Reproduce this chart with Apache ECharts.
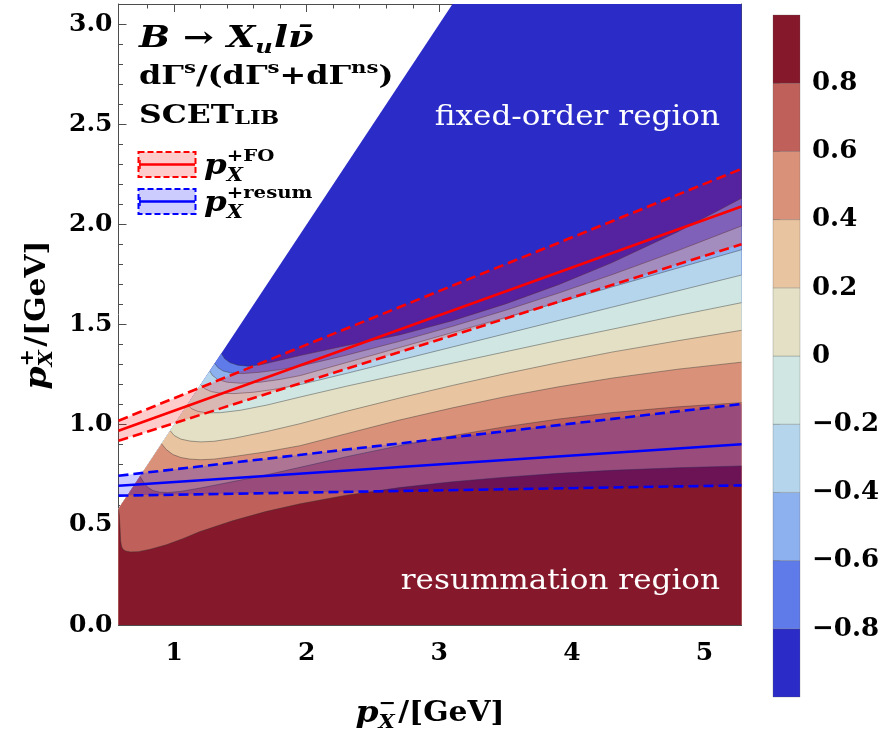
<!DOCTYPE html>
<html>
<head>
<meta charset="utf-8">
<script src="https://cdn.jsdelivr.net/npm/echarts@6/dist/echarts.min.js"></script>
<style>
  html, body { margin: 0; padding: 0; background: #ffffff; }
  #chart { width: 888px; height: 737px; }
</style>
</head>
<body>
<div id="chart"></div>
<script>
// ---- axis ranges and ticks ----
const X_MIN = 0.58, X_MAX = 5.28, Y_MIN = 0, Y_MAX = 3.1;
const xMajorTicks = [1, 2, 3, 4, 5];
const xMinorTicks = [0.8, 1.2, 1.4, 1.6, 1.8, 2.2, 2.4, 2.6, 2.8, 3.2, 3.4, 3.6, 3.8, 4.2, 4.4, 4.6, 4.8, 5.2];
const yMajorTicks = [0, 0.5, 1, 1.5, 2, 2.5, 3];
const yMinorTicks = [0.1, 0.2, 0.3, 0.4, 0.6, 0.7, 0.8, 0.9, 1.1, 1.2, 1.3, 1.4, 1.6, 1.7, 1.8, 1.9,
                     2.1, 2.2, 2.3, 2.4, 2.6, 2.7, 2.8, 2.9];

// ---- contour levels of dGamma^s/(dGamma^s+dGamma^ns) ----
const levels = [-0.8, -0.6, -0.4, -0.2, 0, 0.2, 0.4, 0.6, 0.8];
const levelEdges = [-1, -0.8, -0.6, -0.4, -0.2, 0, 0.2, 0.4, 0.6, 0.8, 1];
const bandColors = ['#2b2bc8', '#5f7ae9', '#8db0ee', '#b5d5ec', '#d0e6e2',
                    '#e3e0c6', '#e8c4a0', '#d9917a', '#c0605a', '#86182b'];

// contour lines [p-, p+] for each level, starting on the kinematic edge p+ = p-
const contourM08 = [[1.356,1.356],[1.38,1.33],[1.42,1.31],[1.48,1.297],[1.56,1.292],[1.66,1.300],[1.8,1.322],[1.95,1.345],[2.3,1.395],[2.7,1.448],[3.1,1.519],[3.5,1.603],[3.9,1.699],[4.3,1.808],[4.8,1.963],[5.28,2.13]];
const contourM06 = [[1.306,1.306],[1.33,1.285],[1.37,1.268],[1.43,1.258],[1.52,1.255],[1.65,1.262],[1.8,1.275],[1.95,1.292],[2.3,1.347],[2.7,1.416],[3.1,1.491],[3.5,1.571],[3.9,1.657],[4.3,1.748],[4.8,1.869],[5.28,1.992]];
const contourM04 = [[1.268,1.268],[1.29,1.245],[1.33,1.225],[1.4,1.212],[1.5,1.207],[1.65,1.212],[1.8,1.226],[1.95,1.245],[2.3,1.31],[2.7,1.385],[3.1,1.46],[3.5,1.535],[3.9,1.61],[4.3,1.687],[4.8,1.782],[5.28,1.873]];
const contourM02 = [[1.20,1.20],[1.23,1.18],[1.28,1.165],[1.35,1.157],[1.45,1.155],[1.6,1.162],[1.75,1.176],[1.95,1.2],[2.3,1.256],[2.7,1.322],[3.1,1.388],[3.5,1.454],[3.9,1.52],[4.3,1.586],[4.8,1.668],[5.28,1.747]];
const contour00 = [[1.10,1.10],[1.13,1.08],[1.18,1.066],[1.25,1.059],[1.35,1.06],[1.5,1.072],[1.7,1.098],[1.95,1.138],[2.3,1.192],[2.7,1.25],[3.1,1.307],[3.5,1.364],[3.9,1.421],[4.3,1.476],[4.8,1.545],[5.28,1.609]];
const contour02 = [[0.97,0.97],[1.0,0.946],[1.05,0.928],[1.12,0.918],[1.2,0.914],[1.3,0.917],[1.45,0.932],[1.7,0.966],[1.95,1.005],[2.3,1.067],[2.7,1.133],[3.1,1.196],[3.5,1.255],[3.9,1.31],[4.3,1.362],[4.8,1.419],[5.28,1.471]];
const contour04 = [[0.905,0.905],[0.94,0.876],[0.99,0.851],[1.05,0.836],[1.12,0.828],[1.2,0.825],[1.3,0.828],[1.44,0.840],[1.69,0.864],[1.95,0.895],[2.3,0.955],[2.7,1.023],[3.1,1.084],[3.5,1.14],[3.9,1.189],[4.3,1.232],[4.8,1.277],[5.28,1.312]];
const contour06 = [[0.742,0.742],[0.77,0.712],[0.80,0.688],[0.84,0.671],[0.89,0.663],[0.95,0.661],[1.05,0.667],[1.2,0.684],[1.4,0.71],[1.7,0.75],[1.95,0.787],[2.3,0.84],[2.7,0.895],[3.1,0.945],[3.5,0.99],[3.9,1.028],[4.3,1.06],[4.8,1.089],[5.28,1.11]];
const contour08 = [[0.58,0.58],[0.586,0.55],[0.592,0.48],[0.596,0.42],[0.603,0.392],[0.615,0.377],[0.635,0.369],[0.67,0.365],[0.73,0.366],[0.82,0.378],[0.94,0.40],[1.07,0.432],[1.19,0.465],[1.44,0.52],[1.69,0.566],[1.95,0.605],[2.3,0.648],[2.7,0.686],[3.1,0.715],[3.5,0.738],[3.9,0.757],[4.3,0.772],[4.8,0.785],[5.28,0.794]];
const contours = [contourM08, contourM06, contourM04, contourM02, contour00, contour02, contour04, contour06, contour08];

// outer edge of the physical region (p+ <= p-), clipped at the top of the frame
const kinematicEdge = [[X_MIN, X_MIN], [Y_MAX, Y_MAX], [X_MAX, Y_MAX]];

// transition points p+^FO and p+^resum with their uncertainty bands
const fixedOrderCentral = [[0.58, 0.970], [5.28, 2.089]];
const fixedOrderUpper   = [[0.58, 1.020], [5.28, 2.277]];
const fixedOrderLower   = [[0.58, 0.920], [5.28, 1.901]];
const resumCentral      = [[0.58, 0.695], [5.28, 0.902]];
const resumUpper        = [[0.58, 0.745], [5.28, 1.103]];
const resumLower        = [[0.58, 0.646], [5.28, 0.697]];

// ---- styling ----
const SERIF = "'DejaVu Serif', serif";
const FRAME = '#4d4d4d';
const RED = '#ff0000', BLUE = '#0000ff';
const RED_FILL = 'rgba(255,0,0,0.2)', BLUE_FILL = 'rgba(0,0,255,0.2)';
const TOP_Z = 100;

const measureCtx = document.createElement('canvas').getContext('2d');
function textWidth(str, font) { measureCtx.font = font; return measureCtx.measureText(str).width; }

// lay out a run of text pieces (with sub/superscripts) as graphic children
function mathRow(pieces, color) {
  let x = 0, prevStart = 0, stackW = 0;
  const children = [];
  pieces.forEach(p => {
    const w = textWidth(p.t, p.f);
    let px;
    if (p.stack) {
      px = prevStart;
      stackW = Math.max(stackW, w);
      x = prevStart + stackW;
    } else {
      px = x + (p.dx || 0);
      prevStart = px;
      stackW = w;
      x = px + w;
    }
    children.push({
      type: 'text', x: px, y: p.dy || 0, silent: true, z: TOP_Z,
      style: { text: p.t, font: p.f, fill: color || '#000', align: 'left', verticalAlign: 'middle',
               textAlign: 'left', textVerticalAlign: 'middle' }
    });
  });
  return { children, width: x };
}
// sx stretches the run horizontally to mimic a wide extended serif face
function mathGroup(pieces, x, y, opts) {
  opts = opts || {};
  const row = mathRow(pieces, opts.color);
  const shift = opts.center ? -row.width / 2 : (opts.right ? -row.width : 0);
  row.children.forEach(c => { c.x += shift; });
  return { type: 'group', x, y, rotation: opts.rotation || 0, scaleX: opts.sx || 1.16, scaleY: 1,
           silent: true, z: TOP_Z, children: row.children };
}

const fB = s => `bold ${s}px ${SERIF}`;
const fBI = s => `italic bold ${s}px ${SERIF}`;
const fN = s => `${s}px ${SERIF}`;

// ---- series ----
const series = [];
// filled bands, painted from the lowest level upward
series.push({
  type: 'line', data: kinematicEdge, symbol: 'none', silent: true, animation: false,
  lineStyle: { width: 0 }, areaStyle: { color: bandColors[0], opacity: 1 }, z: 1
});
contours.forEach((c, i) => {
  const pts = c[0][0] > X_MIN ? [[X_MIN, X_MIN]].concat(c) : c;
  series.push({
    type: 'line', data: pts, symbol: 'none', silent: true, animation: false,
    lineStyle: { width: 0 }, areaStyle: { color: bandColors[i + 1], opacity: 1 }, z: 1
  });
});
// contour lines
contours.forEach(c => {
  series.push({
    type: 'line', data: c, symbol: 'none', silent: true, animation: false,
    lineStyle: { width: 0.8, color: 'rgba(50,50,50,0.55)' }, z: 2
  });
});
// uncertainty bands
function bandSeries(upper, lower, fill) {
  return {
    type: 'custom', silent: true, animation: false, z: 3,
    data: [[X_MIN, 0]],
    renderItem: (params, api) => {
      const pts = upper.map(p => api.coord(p)).concat(lower.slice().reverse().map(p => api.coord(p)));
      return { type: 'polygon', shape: { points: pts }, style: { fill } };
    }
  };
}
series.push(bandSeries(fixedOrderUpper, fixedOrderLower, RED_FILL));
series.push(bandSeries(resumUpper, resumLower, BLUE_FILL));
function lineSeries(data, color, dashed) {
  return {
    type: 'line', data, symbol: 'none', silent: true, animation: false, z: 4,
    lineStyle: { width: 2.6, color, type: dashed ? [10, 5] : 'solid', cap: 'butt' }
  };
}
series.push(lineSeries(fixedOrderUpper, RED, true));
series.push(lineSeries(fixedOrderLower, RED, true));
series.push(lineSeries(fixedOrderCentral, RED, false));
series.push(lineSeries(resumUpper, BLUE, true));
series.push(lineSeries(resumLower, BLUE, true));
series.push(lineSeries(resumCentral, BLUE, false));

// colour bar
series.push({
  type: 'custom', xAxisIndex: 4, yAxisIndex: 4, silent: true, animation: false,
  dimensions: ['lo', 'hi', 'idx'],
  encode: { y: [0, 1] },
  data: bandColors.map((c, i) => [levelEdges[i], levelEdges[i + 1], i]),
  renderItem: (params, api) => {
    const p0 = api.coord([0, api.value(0)]);
    const p1 = api.coord([1, api.value(1)]);
    return {
      type: 'rect',
      shape: { x: p0[0], y: p1[1], width: p1[0] - p0[0], height: p0[1] - p1[1] },
      style: { fill: bandColors[api.value(2)], stroke: 'rgba(90,90,90,0.45)', lineWidth: 0.6 }
    };
  }
});

// ---- axes ----
const tickLine = { color: FRAME, width: 1 };
const LABEL_SIZE = 25;
function xAx(pos, ticks, len, withLabel, lineOn) {
  return {
    type: 'value', gridIndex: 0, position: pos, min: X_MIN, max: X_MAX,
    axisLine: { show: lineOn, lineStyle: tickLine, onZero: false },
    axisTick: { show: true, inside: true, length: len, customValues: ticks, lineStyle: tickLine },
    axisLabel: withLabel ? {
      customValues: ticks, margin: 16, color: '#000', fontFamily: SERIF, fontWeight: 'bold', fontSize: LABEL_SIZE,
      formatter: v => String(Math.round(v))
    } : { show: false },
    splitLine: { show: false }
  };
}
function yAx(pos, ticks, len, withLabel, lineOn) {
  return {
    type: 'value', gridIndex: 0, position: pos, min: Y_MIN, max: Y_MAX,
    axisLine: { show: lineOn, lineStyle: tickLine, onZero: false },
    axisTick: { show: true, inside: true, length: len, customValues: ticks, lineStyle: tickLine },
    axisLabel: withLabel ? {
      customValues: ticks, margin: 6, color: '#000', fontFamily: SERIF, fontWeight: 'bold', fontSize: LABEL_SIZE,
      formatter: v => v.toFixed(1)
    } : { show: false },
    splitLine: { show: false }
  };
}

const option = {
  backgroundColor: '#ffffff',
  animation: false,
  grid: [
    { left: 118.5, right: 146.5, top: 4, bottom: 112, show: false },
    { left: 773, width: 27, top: 15, bottom: 40, show: false }
  ],
  xAxis: [
    xAx('bottom', xMajorTicks, 8, true, true),
    xAx('bottom', xMinorTicks, 4.5, false, false),
    xAx('top', xMajorTicks, 8, false, true),
    xAx('top', xMinorTicks, 4.5, false, false),
    { type: 'value', gridIndex: 1, min: 0, max: 1, show: false }
  ],
  yAxis: [
    yAx('left', yMajorTicks, 8, true, true),
    yAx('left', yMinorTicks, 4.5, false, false),
    yAx('right', yMajorTicks, 8, false, true),
    yAx('right', yMinorTicks, 4.5, false, false),
    {
      type: 'value', gridIndex: 1, position: 'right', min: -1, max: 1,
      axisLine: { show: false },
      axisTick: { show: true, inside: false, length: 7, customValues: levels, lineStyle: { color: '#999', width: 1 } },
      axisLabel: {
        customValues: levels, margin: 12, color: '#000', fontFamily: SERIF, fontWeight: 'bold', fontSize: 26,
        formatter: v => v === 0 ? '0' : (v < 0 ? '\u2212' : '') + Math.abs(v).toFixed(1)
      },
      splitLine: { show: false }
    }
  ],
  series,
  graphic: [
    // axis titles
    mathGroup([
      { t: 'p', f: fBI(30) },
      { t: 'X', f: fBI(19), dy: 9 },
      { t: '\u2212', f: fB(19), dy: -10, stack: true },
      { t: '/[GeV]', f: fB(27), dx: 2 }
    ], 430, 714, { center: true, sx: 1.1 }),
    mathGroup([
      { t: 'p', f: fBI(30) },
      { t: 'X', f: fBI(19), dy: 9 },
      { t: '+', f: fB(19), dy: -10, stack: true },
      { t: '/[GeV]', f: fB(27), dx: 2 }
    ], 38, 315, { center: true, rotation: Math.PI / 2, sx: 1.1 }),
    // in-plot annotations
    mathGroup([
      { t: 'B', f: fBI(29) },
      { t: ' \u2192 ', f: fB(29) },
      { t: 'X', f: fBI(29) },
      { t: 'u', f: fBI(19), dy: 9 },
      { t: 'l', f: fBI(29), dx: 1 },
      { t: '\u03bd\u0304', f: fBI(29) }
    ], 139, 39, { sx: 1.27 }),
    mathGroup([
      { t: 'd\u0393', f: fB(25.5) },
      { t: 's', f: fB(17), dy: -8 },
      { t: '/(d\u0393', f: fB(25.5) },
      { t: 's', f: fB(17), dy: -8 },
      { t: '+d\u0393', f: fB(25.5) },
      { t: 'ns', f: fB(17), dy: -8 },
      { t: ')', f: fB(25.5) }
    ], 139, 77, { sx: 1.25 }),
    mathGroup([
      { t: 'SCET', f: fB(26) },
      { t: 'LIB', f: fB(18.5), dy: 3 }
    ], 139, 116, { sx: 1.21 }),
    // legend entries
    { type: 'rect', silent: true, z: TOP_Z, shape: { x: 138.5, y: 152, width: 57, height: 25 },
      style: { fill: RED_FILL, stroke: RED, lineWidth: 2, lineDash: [6, 3] } },
    { type: 'line', silent: true, z: TOP_Z, shape: { x1: 139, y1: 164.5, x2: 195, y2: 164.5 }, style: { stroke: RED, lineWidth: 2.4 } },
    { type: 'line', silent: true, z: TOP_Z, shape: { x1: 140, y1: 160, x2: 140, y2: 169 }, style: { stroke: RED, lineWidth: 1.5 } },
    { type: 'rect', silent: true, z: TOP_Z, shape: { x: 138.5, y: 189, width: 57, height: 25 },
      style: { fill: BLUE_FILL, stroke: BLUE, lineWidth: 2, lineDash: [6, 3] } },
    { type: 'line', silent: true, z: TOP_Z, shape: { x1: 139, y1: 201.5, x2: 195, y2: 201.5 }, style: { stroke: BLUE, lineWidth: 2.4 } },
    { type: 'line', silent: true, z: TOP_Z, shape: { x1: 140, y1: 197, x2: 140, y2: 206 }, style: { stroke: BLUE, lineWidth: 1.5 } },
    mathGroup([
      { t: 'p', f: fBI(28) },
      { t: 'X', f: fBI(18), dy: 9 },
      { t: '+FO', f: fB(17), dy: -10, stack: true }
    ], 204, 167, { sx: 1.16 }),
    mathGroup([
      { t: 'p', f: fBI(28) },
      { t: 'X', f: fBI(18), dy: 9 },
      { t: '+resum', f: fB(17), dy: -10, stack: true }
    ], 204, 204, { sx: 1.16 }),
    // region labels
    mathGroup([{ t: 'fixed-order region', f: fN(27) }], 720, 118, { right: true, color: '#ffffff', sx: 1.15 }),
    mathGroup([{ t: 'resummation region', f: fN(27) }], 720, 582, { right: true, color: '#ffffff', sx: 1.15 })
  ]
};

const chart = echarts.init(document.getElementById('chart'), null, { renderer: 'canvas', width: 888, height: 737 });
chart.setOption(option);
</script>
</body>
</html>
